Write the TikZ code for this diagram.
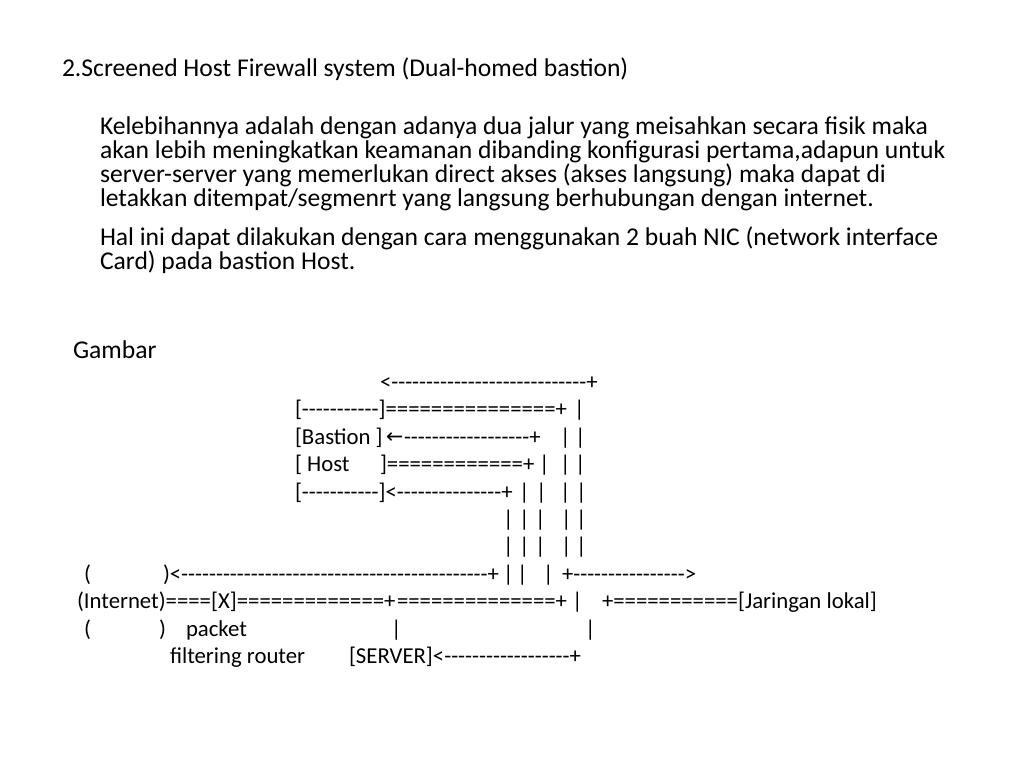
\documentclass[tikz,border=0pt]{standalone}
\usepackage{fontspec}
\setmainfont{Carlito}
\newfontfamily\asciifont{Carlito}[Ligatures=TeXOff]
\newfontfamily\arrowfont{DejaVu Sans}
\begin{document}
\begin{tikzpicture}[x=0.75pt,y=-0.75pt,
  bodytext/.style={anchor=base west,inner sep=0pt,outer sep=0pt,font=\fontsize{19.2}{23}\selectfont},
  ascii/.style={anchor=base west,inner sep=0pt,outer sep=0pt,font=\asciifont\fontsize{17.07}{20}\selectfont},
  arrowglyph/.style={anchor=base west,inner sep=0pt,outer sep=0pt,font=\arrowfont\fontsize{15.5}{17}\selectfont}]
\useasboundingbox[fill=white] (0,0) rectangle (1024,768);
% title and paragraph
\node[bodytext] (title) at (62,76) {2.Screened Host Firewall system (Dual-homed bastion)};
\node[bodytext] (p1) at (100,134) {Kelebihannya adalah dengan adanya dua jalur yang meisahkan secara fisik maka};
\node[bodytext] (p2) at (100,158) {akan lebih meningkatkan keamanan dibanding konfigurasi pertama,adapun untuk};
\node[bodytext] (p3) at (100,182) {server-server yang memerlukan direct akses (akses langsung) maka dapat di};
\node[bodytext] (p4) at (100,206) {letakkan ditempat/segmenrt yang langsung berhubungan dengan internet.};
\node[bodytext] (p5) at (100,245) {Hal ini dapat dilakukan dengan cara menggunakan 2 buah NIC (network interface};
\node[bodytext] (p6) at (100,269) {Card) pada bastion Host.};
\node[bodytext] (gambar) at (73,358) {Gambar};
% ascii diagram
% line 1
\node[ascii] (a1) at (380,389) {<----------------------------+};
% line 2
\node[ascii] (b1) at (295,416) {[-----------]===============+};
\node[ascii] (b2) at (574,416) {|};
% line 3
\node[ascii] (c1) at (295,444) {[Bastion ]};
\node[arrowglyph] (c2) at (386,443.5) {←};
\node[ascii] (c3) at (404,444) {------------------+};
\node[ascii] (c4) at (560,444) {|};
\node[ascii] (c5) at (575,444) {|};
% line 4
\node[ascii] (d1) at (295,471) {[ Host};
\node[ascii] (d2) at (380,471) {]============+};
\node[ascii] (d3) at (539,471) {|};
\node[ascii] (d4) at (560,471) {|};
\node[ascii] (d5) at (575,471) {|};
% line 5
\node[ascii] (e1) at (295,499) {[-----------]<---------------+};
\node[ascii] (e2) at (519,499) {|};
\node[ascii] (e3) at (536,499) {|};
\node[ascii] (e4) at (560,499) {|};
\node[ascii] (e5) at (576,499) {|};
% lines 6 and 7
\foreach \yy/\nm in {526/f,553/g}{
  \node[ascii] (\nm1) at (503,\yy) {|};
  \node[ascii] (\nm2) at (519,\yy) {|};
  \node[ascii] (\nm3) at (535,\yy) {|};
  \node[ascii] (\nm4) at (561,\yy) {|};
  \node[ascii] (\nm5) at (576,\yy) {|};
}
% line 8
\node[ascii] (h1) at (84,581) {(};
\node[ascii] (h2) at (163,581) {)<--------------------------------------------+};
\node[ascii] (h3) at (503,581) {|};
\node[ascii] (h4) at (517,581) {|};
\node[ascii] (h5) at (543,581) {|};
\node[ascii] (h6) at (562,581) {+---------------->};
% line 9
\node[ascii] (i1) at (77,608) {(Internet)====[X]=============+};
\node[ascii] (i2) at (397,608) {==============+};
\node[ascii] (i3) at (572,608) {|};
\node[ascii] (i4) at (602,608) {+===========[Jaringan lokal]};
% line 10
\node[ascii] (j1) at (84,636) {(};
\node[ascii] (j2) at (159,636) {)};
\node[ascii] (j3) at (186,636) {packet};
\node[ascii] (j4) at (391,636) {|};
\node[ascii] (j5) at (585,636) {|};
% line 11
\node[ascii] (k1) at (170,663) {filtering router};
\node[ascii] (k2) at (349,663) {[SERVER]<------------------+};
\end{tikzpicture}
\end{document}
